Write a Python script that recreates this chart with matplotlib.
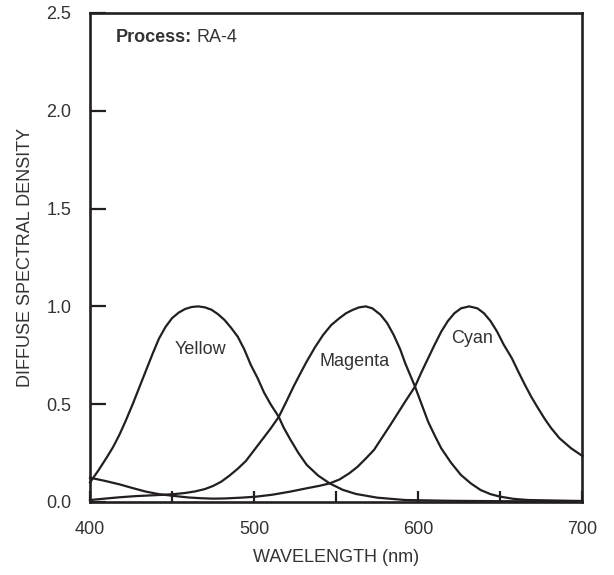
import numpy as np
import matplotlib
matplotlib.use('Agg')
import matplotlib.pyplot as plt
from matplotlib.ticker import MultipleLocator

plt.rcParams['font.family'] = ['Liberation Sans', 'DejaVu Sans']

# values (wavelength in nm, density)
wl_yellow = [400, 405, 410, 414, 418, 422, 426, 430, 434, 438, 442, 446, 450,
             454, 458, 462, 466, 470, 474, 478, 482, 486, 490, 494, 498, 502,
             506, 510, 515, 518, 522, 527, 532, 539, 546, 554, 562, 575, 592,
             620, 650, 700]
yellow = [0.10, 0.16, 0.225, 0.28, 0.345, 0.42, 0.50, 0.585, 0.67, 0.755,
          0.835, 0.895, 0.94, 0.968, 0.987, 0.997, 1.0, 0.995, 0.983, 0.96,
          0.93, 0.89, 0.845, 0.78, 0.70, 0.635, 0.56, 0.50, 0.435, 0.38, 0.32,
          0.25, 0.19, 0.135, 0.095, 0.062, 0.041, 0.022, 0.01, 0.006, 0.004,
          0.003]

wl_magenta = [400, 410, 418, 428, 438, 445, 451, 458, 464, 470, 475, 480, 485,
              490, 495, 500, 505, 510, 515, 520, 524, 528, 532, 537, 542, 547,
              552, 556, 560, 564, 568, 572, 577, 581, 585, 589, 592, 595, 598,
              602, 606, 610, 614, 620, 626, 632, 638, 644, 650, 658, 667, 686,
              700]
magenta = [0.01, 0.018, 0.024, 0.03, 0.034, 0.037, 0.04, 0.046, 0.054, 0.066,
           0.082, 0.104, 0.135, 0.17, 0.21, 0.265, 0.32, 0.375, 0.435, 0.52,
           0.59, 0.655, 0.718, 0.79, 0.854, 0.905, 0.94, 0.965, 0.982, 0.995,
           1.0, 0.99, 0.957, 0.915, 0.854, 0.78, 0.71, 0.65, 0.59, 0.50, 0.41,
           0.34, 0.274, 0.20, 0.138, 0.095, 0.061, 0.04, 0.027, 0.016, 0.01,
           0.007, 0.005]

wl_cyan = [400, 409, 418, 426, 434, 442, 451, 460, 468, 475, 482, 492, 501,
           511, 522, 532, 540, 546, 552, 558, 563, 568, 573, 578, 583, 588,
           592, 598, 602, 606, 610, 614, 618, 622, 626, 631, 636, 640, 644,
           648, 652, 657, 661, 665, 669, 673, 677, 681, 686, 693, 700]
cyan = [0.124, 0.108, 0.09, 0.071, 0.053, 0.04, 0.031, 0.023, 0.019, 0.017,
        0.018, 0.022, 0.027, 0.037, 0.053, 0.07, 0.083, 0.095, 0.115, 0.147,
        0.18, 0.222, 0.266, 0.33, 0.394, 0.46, 0.513, 0.59, 0.665, 0.735,
        0.805, 0.871, 0.925, 0.965, 0.99, 1.0, 0.99, 0.965, 0.925, 0.871,
        0.805, 0.735, 0.665, 0.598, 0.535, 0.479, 0.425, 0.377, 0.326, 0.275,
        0.235]

# label name, wavelength, density
dye_labels = [('Yellow', 467.5, 0.78), ('Magenta', 561, 0.72), ('Cyan', 633, 0.834)]

ink = '#231f20'
txt = '#333333'

fig = plt.figure(figsize=(6.14, 5.75), dpi=100)
ax = fig.add_axes([0.1466, 0.127, 0.802, 0.8504])

for x, y in [(wl_yellow, yellow), (wl_magenta, magenta), (wl_cyan, cyan)]:
    ax.plot(x, y, color=ink, lw=1.6, solid_joinstyle='round', clip_on=False)

for name, x, y in dye_labels:
    ax.text(x, y, name, ha='center', va='center', fontsize=13, color=txt)

t1 = ax.text(0.053, 0.949, 'Process:', transform=ax.transAxes, ha='left',
             va='center', fontsize=13, fontweight='bold', color=txt)
ax.annotate('RA-4', xy=(1, 0.5), xycoords=t1, xytext=(3, 0),
            textcoords='offset points', ha='left', va='center',
            fontsize=13, color=txt)

ax.set_xlim(400, 700)
ax.set_ylim(0, 2.5)
ax.xaxis.set_major_locator(MultipleLocator(100))
ax.xaxis.set_minor_locator(MultipleLocator(50))
ax.yaxis.set_major_locator(MultipleLocator(0.5))

for s in ax.spines.values():
    s.set_linewidth(1.9)
    s.set_color(ink)

ax.tick_params(axis='x', which='both', direction='in', length=8, width=1.6,
               color=ink, pad=13.5, labelsize=13, labelcolor=txt)
ax.tick_params(axis='y', which='both', direction='in', length=11.5, width=1.6,
               color=ink, pad=13.5, labelsize=13, labelcolor=txt)

ax.set_xlabel('WAVELENGTH (nm)', fontsize=13, color=txt, labelpad=8)
ax.set_ylabel('DIFFUSE SPECTRAL DENSITY', fontsize=13, color=txt, labelpad=9)

fig.savefig('out.png', dpi=100)
